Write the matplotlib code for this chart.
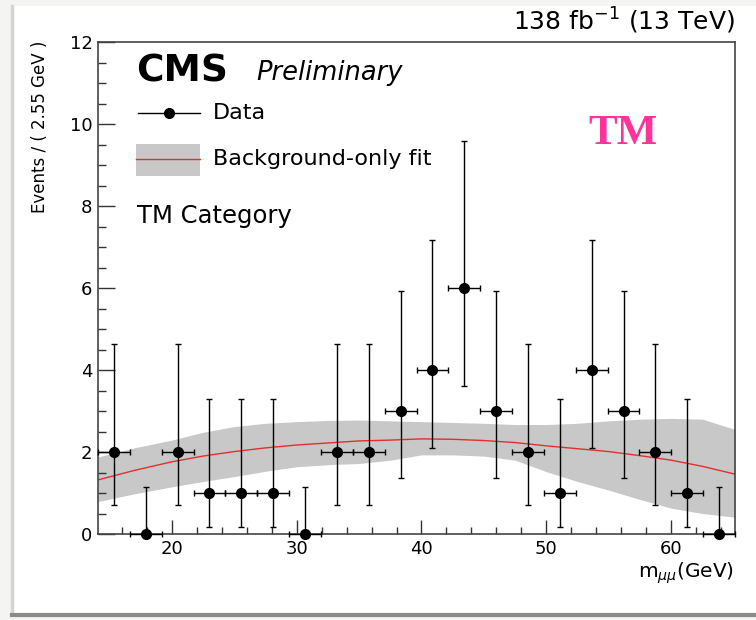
import numpy as np
import matplotlib
matplotlib.use("Agg")
import matplotlib.pyplot as plt
from matplotlib.patches import Rectangle
from matplotlib.lines import Line2D
from matplotlib.ticker import MultipleLocator

plt.rcParams["font.family"] = ["DejaVu Sans"]
plt.rcParams["mathtext.fontset"] = "dejavusans"

# --- binned data (2.55 GeV bins) ---
mass_lo, mass_hi = 14.1, 65.1
bin_width = 2.55
bin_centers = [15.375, 17.925, 20.475, 23.025, 25.575, 28.125, 30.675, 33.225,
               35.775, 38.325, 40.875, 43.425, 45.975, 48.525, 51.075, 53.625,
               56.175, 58.725, 61.275, 63.825]
counts = [2, 0, 2, 1, 1, 1, 0, 2, 2, 3, 4, 6, 3, 2, 1, 4, 3, 2, 1, 0]
# poisson interval bounds per bin
poisson_lo = [0.708, 0.0, 0.708, 0.173, 0.173, 0.173, 0.0, 0.708, 0.708, 1.367,
              2.086, 3.620, 1.367, 0.708, 0.173, 2.086, 1.367, 0.708, 0.173, 0.0]
poisson_hi = [4.638, 1.148, 4.638, 3.300, 3.300, 3.300, 1.148, 4.638, 4.638, 5.918,
              7.163, 9.584, 5.918, 4.638, 3.300, 7.163, 5.918, 4.638, 3.300, 1.148]

# --- background-only fit and its uncertainty band ---
fit_x = [14.1, 17.0, 20.0, 22.5, 25.0, 27.5, 30.0, 32.5, 35.0, 37.5, 40.0,
         42.5, 45.0, 47.5, 50.0, 52.5, 55.0, 57.5, 60.0, 62.5, 65.1]
fit_y = [1.32, 1.55, 1.76, 1.90, 2.01, 2.10, 2.17, 2.22, 2.27, 2.29, 2.32,
         2.31, 2.28, 2.23, 2.15, 2.08, 2.01, 1.91, 1.80, 1.65, 1.46]
band_hi = [1.88, 2.10, 2.29, 2.48, 2.62, 2.70, 2.74, 2.77, 2.78, 2.76, 2.74,
           2.72, 2.70, 2.67, 2.67, 2.70, 2.76, 2.80, 2.82, 2.80, 2.55]
band_lo = [0.79, 0.98, 1.15, 1.28, 1.40, 1.53, 1.64, 1.69, 1.72, 1.80, 1.93,
           1.93, 1.90, 1.80, 1.52, 1.28, 1.07, 0.84, 0.63, 0.50, 0.41]

W, H = 756, 620
fig = plt.figure(figsize=(W / 100, H / 100), dpi=100, facecolor="#f4f4f2")

def fx(x):
    return x / W

def fy(y):
    return 1 - y / H

# white page with a little shadow
fig.patches.append(Rectangle((fx(12), fy(614)), fx(744), 608 / H, transform=fig.transFigure,
                             facecolor="white", edgecolor="none", zorder=-5))
fig.add_artist(Line2D([fx(12), fx(12)], [fy(614), fy(6)], color="#d4d4d4", lw=2.5, zorder=-4))
fig.add_artist(Line2D([fx(12), fx(756)], [fy(615), fy(615)], color="#8a8a8a", lw=3, zorder=-4))

ax = fig.add_axes([fx(98), fy(534), fx(735) - fx(98), (534 - 42) / H])
ax.set_facecolor("white")

band_color = "#c8c8c8"
fit_color = "#e0302e"
ax.fill_between(fit_x, band_lo, band_hi, color=band_color, lw=0, zorder=1)
ax.plot(fit_x, fit_y, color=fit_color, lw=1.0, zorder=2)

counts_a = np.array(counts, dtype=float)
yerr = [counts_a - np.array(poisson_lo), np.array(poisson_hi) - counts_a]
ax.errorbar(bin_centers, counts, xerr=bin_width / 2, yerr=yerr, fmt="o", color="black",
            ms=7, elinewidth=1.0, capsize=2.5, capthick=1.0, zorder=3, clip_on=False)

ax.set_xlim(mass_lo, mass_hi)
ax.set_ylim(0, 12)
ax.xaxis.set_major_locator(MultipleLocator(10))
ax.xaxis.set_minor_locator(MultipleLocator(2))
ax.yaxis.set_major_locator(MultipleLocator(2))
ax.yaxis.set_minor_locator(MultipleLocator(0.5))
ax.tick_params(axis="both", which="both", direction="in", top=False, right=False,
               labelsize=13, colors="#333333", labelcolor="black")
ax.tick_params(axis="y", which="major", length=12, width=1, pad=4)
ax.tick_params(axis="y", which="minor", length=6, width=1)
ax.tick_params(axis="x", which="major", length=10, width=1, pad=4)
ax.tick_params(axis="x", which="minor", length=5, width=1)
for s in ax.spines.values():
    s.set_color("#444444")
    s.set_linewidth(1.2)

# axis titles
fig.text(fx(40), fy(41), "Events / ( 2.55 GeV )", rotation=90, ha="center", va="top",
         fontsize=12)
fig.text(fx(734), fy(560), r"m$_{\mu\mu}$(GeV)", ha="right", va="top",
         fontsize=14.5)
fig.text(fx(735), fy(21), r"138 fb$^{-1}$ (13 TeV)", ha="right", va="center",
         fontsize=18)

# CMS label
fig.text(fx(136), fy(72), "CMS", fontsize=27, fontweight="bold", ha="left", va="center")
fig.text(fx(256), fy(73), "Preliminary", fontsize=18.5, style="italic", ha="left", va="center")

# legend drawn by hand
fig.add_artist(Line2D([fx(138), fx(200)], [fy(113), fy(113)], color="black", lw=1.0))
fig.add_artist(Line2D([fx(169)], [fy(113)], color="black", marker="o", ms=7, lw=0))
fig.text(fx(213), fy(113), "Data", fontsize=16, ha="left", va="center")
fig.patches.append(Rectangle((fx(136), fy(176)), fx(64), 32 / H, transform=fig.transFigure,
                             facecolor=band_color, edgecolor="none"))
fig.add_artist(Line2D([fx(136), fx(200)], [fy(159), fy(159)], color=fit_color, lw=1.0))
fig.text(fx(213), fy(159), "Background-only fit", fontsize=16, ha="left", va="center")
fig.text(fx(137), fy(216), "TM Category", fontsize=17.5, ha="left", va="center")

fig.text(fx(623), fy(134), "TM", fontsize=31, fontweight="bold", color="#ff3399",
         family="Liberation Serif", ha="center", va="center")

fig.savefig("out.png", dpi=100, facecolor=fig.get_facecolor())
